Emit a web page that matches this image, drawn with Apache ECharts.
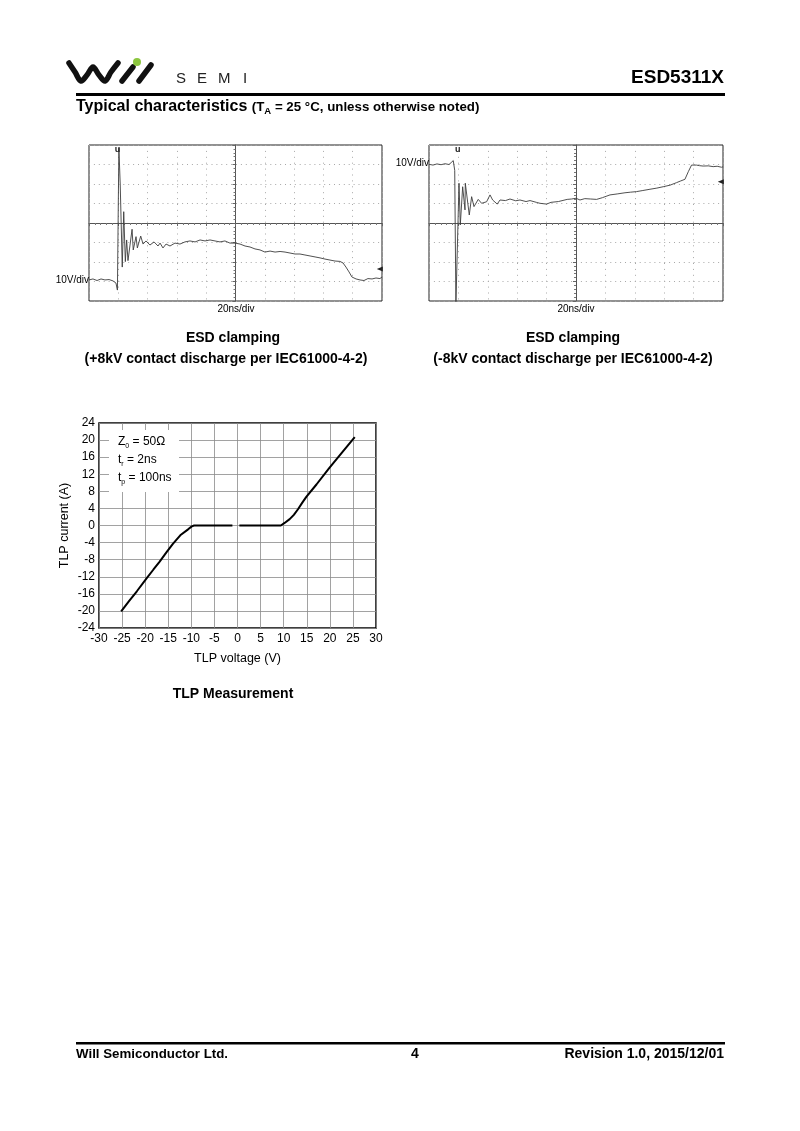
<!DOCTYPE html>
<html><head><meta charset="utf-8">
<script src="https://cdn.jsdelivr.net/npm/echarts@6/dist/echarts.min.js"></script>
<style>html,body{margin:0;padding:0;background:#fff}#c{width:800px;height:1131px}</style>
</head><body><div id="c"></div>
<script>
// ---- data (time in ns relative to screen centre, voltage in V relative to centre graticule) ----
const posClampTrace = [[-100,-29.2],[-97.3,-28.7],[-94.5,-29.5],[-91.8,-28.7],[-89.1,-29.2],[-86.3,-29.0],[-83.6,-29.7],[-81.6,-30.8],[-80.6,-34.4],[-79.6,38.5],[-78.7,20.0],[-77.3,-22.6],[-76.3,5.8],[-75.2,-19.8],[-74.3,-8.7],[-73.4,-19.3],[-72.0,-11.3],[-70.6,-3.2],[-69.8,-13.8],[-67.9,-7.0],[-67.0,-12.8],[-64.7,-6.7],[-63.1,-10.8],[-61.1,-9.2],[-58.4,-11.3],[-55.6,-9.7],[-52.9,-11.8],[-51.5,-10.3],[-49.5,-12.8],[-47.4,-10.8],[-44.7,-11.8],[-41.3,-10.3],[-37.9,-10.8],[-34.5,-9.7],[-31.1,-9.2],[-27.6,-9.7],[-24.2,-8.7],[-20.8,-9.2],[-17.4,-8.7],[-14.0,-9.2],[-10.6,-9.7],[-7.2,-9.2],[-3.8,-10.3],[-0.3,-10.3],[3.1,-10.8],[6.5,-11.8],[9.9,-12.3],[13.3,-13.3],[16.7,-13.8],[20.1,-14.9],[23.6,-14.4],[27.0,-14.9],[30.4,-14.6],[33.8,-14.9],[37.2,-15.4],[40.6,-15.9],[44.0,-15.9],[47.4,-16.4],[50.9,-16.9],[54.3,-17.4],[57.7,-17.9],[61.1,-18.5],[64.5,-19.0],[67.9,-19.5],[71.3,-19.7],[73.4,-20.5],[75.4,-22.6],[77.5,-25.1],[79.5,-27.7],[82.3,-28.7],[85.0,-29.2],[87.7,-29.5],[90.4,-28.5],[93.2,-28.7],[95.9,-28.2],[98.6,-28.5],[100,-27.7]];
const negClampTrace = [[-100,30.1],[-97.3,29.7],[-94.6,30.3],[-91.8,29.9],[-89.1,30.4],[-86.4,30.0],[-84.9,31.0],[-83.5,32.0],[-82.5,27.0],[-81.7,-42],[-79.6,20.4],[-78.7,-1.0],[-77.1,18.6],[-75.5,6.7],[-75.3,20.4],[-72.6,4.1],[-71.0,13.5],[-69.4,8.4],[-66.5,12.1],[-64.2,10.1],[-60.8,10.9],[-58.5,14.4],[-56.7,11.8],[-53.6,9.7],[-51.7,11.8],[-48,11.5],[-44.9,12.3],[-41,11.4],[-38.1,11.8],[-34,11.0],[-31.3,11.5],[-27,10.6],[-24.5,10.1],[-20.0,9.7],[-17,10.6],[-15.7,11.4],[-12,11.0],[-10.9,11.8],[-6,12.1],[-3,12.3],[0,12.7],[2.7,11.8],[6,12.5],[10,12.3],[14.0,12.1],[18,13.0],[23.1,14.4],[28,14.9],[33.3,15.5],[37,15.8],[41.2,16.1],[45,16.6],[50.3,17.3],[55,17.9],[59.3,18.6],[64,19.4],[68.4,20.7],[71,21.5],[74.1,22.4],[76.4,26.3],[78.6,29.7],[82.0,29.7],[84,29.4],[86.5,29.2],[90,29.3],[93.3,28.9],[96,29.1],[99.0,28.6],[100,28.8]];
const tlpCurve = [[-25.2,-20.1],[-23.5,-17.7],[-21.8,-15.4],[-19.7,-12.4],[-18.2,-10.3],[-16.9,-8.5],[-15.4,-6.3],[-14.0,-4.3],[-12.4,-2.3],[-10.7,-0.9],[-9.9,-0.2],[-9.4,0],[-1.1,0],null,[0.4,0],[9.4,0],[10.2,0.6],[11.3,1.5],[12.2,2.5],[13.1,3.8],[14.0,5.3],[14.9,6.7],[17.1,9.6],[19.9,13.5],[22.8,17.3],[25.4,20.7]];
const trigMarkPos = [-80.5, 37.5];
const trigMarkNeg = [-80.5, 37.5];
const levelMarkPos = [98.5, -23.6];
const levelMarkNeg = [98.5, 21.2];
const tlpXRange = [-30, 30, 5];
const tlpYRange = [-24, 24, 4];
const scopeXRange = [-100, 100, 20];
const scopeYRange = [-40, 40, 10];

const NARROW = "'Liberation Sans Narrow','Arial Narrow','Liberation Sans',Arial,sans-serif";
const SANS = "'Liberation Sans',Arial,sans-serif";

function scopeX(i){return {gridIndex:i,type:'value',min:scopeXRange[0],max:scopeXRange[1],interval:scopeXRange[2],
  axisLabel:{show:false},axisLine:{show:true,onZero:true,lineStyle:{color:'#555',width:1}},
  axisTick:{show:true,length:3,lineStyle:{color:'#666'}},minorTick:{show:true,splitNumber:5,length:2,lineStyle:{color:'#777'}},
  splitLine:{show:true,lineStyle:{color:'#a8a8a8',width:1,type:[1,4.9]}}};}
function scopeY(i){return {gridIndex:i,type:'value',min:scopeYRange[0],max:scopeYRange[1],interval:scopeYRange[2],
  axisLabel:{show:false},axisLine:{show:true,onZero:true,lineStyle:{color:'#555',width:1}},
  axisTick:{show:true,length:3,lineStyle:{color:'#666'}},minorTick:{show:true,splitNumber:5,length:2,lineStyle:{color:'#777'}},
  splitLine:{show:true,lineStyle:{color:'#a8a8a8',width:1,type:[1,3.9]}}};}
function markers(trig, lvl){return {silent:true,animation:false,data:[
  {coord:trig,symbol:'circle',symbolSize:0.1,itemStyle:{color:'rgba(0,0,0,0)'},label:{show:true,position:'inside',formatter:'u',fontSize:9,fontWeight:'bold',color:'#222',fontFamily:SANS}},
  {coord:lvl,symbol:'triangle',symbolRotate:90,symbolSize:[5,6],itemStyle:{color:'#222'},label:{show:false}}]};}

const chart = echarts.init(document.getElementById('c'),null,{renderer:'canvas'});
const txt = (x,y,text,o)=>Object.assign({type:'text',x:x,y:y,z:20,style:Object.assign({text:text,fill:'#000',font:'bold 14px '+NARROW,align:'left',verticalAlign:'middle'},o||{})});
chart.setOption({
  animation:false,
  backgroundColor:'#fff',
  grid:[
    {left:89,top:145,width:293,height:156,show:true,borderColor:'#222',borderWidth:1,backgroundColor:'transparent'},
    {left:429,top:145,width:294,height:156,show:true,borderColor:'#222',borderWidth:1,backgroundColor:'transparent'},
    {left:99,top:423,width:277,height:205,show:true,borderColor:'#000',borderWidth:1.5,backgroundColor:'transparent'}
  ],
  xAxis:[scopeX(0),scopeX(1),
    {gridIndex:2,type:'value',min:tlpXRange[0],max:tlpXRange[1],interval:tlpXRange[2],
     axisLine:{show:false,onZero:false},axisTick:{show:false},
     axisLabel:{fontSize:12,color:'#000',margin:5,fontFamily:SANS},
     splitLine:{show:true,lineStyle:{color:'#8a8a8a',width:0.8}},
     name:'TLP voltage (V)',nameLocation:'middle',nameGap:24,nameTextStyle:{fontSize:12.5,color:'#000',fontFamily:SANS}}],
  yAxis:[scopeY(0),scopeY(1),
    {gridIndex:2,type:'value',min:tlpYRange[0],max:tlpYRange[1],interval:tlpYRange[2],
     axisLine:{show:false,onZero:false},axisTick:{show:false},
     axisLabel:{fontSize:12,color:'#000',margin:4,fontFamily:SANS},
     splitLine:{show:true,lineStyle:{color:'#8a8a8a',width:0.8}},
     name:'TLP current (A)',nameLocation:'middle',nameRotate:90,nameGap:28,nameTextStyle:{fontSize:12.5,color:'#000',fontFamily:SANS}}],
  series:[
    {type:'line',xAxisIndex:0,yAxisIndex:0,data:posClampTrace,symbol:'none',showSymbol:false,clip:true,
     lineStyle:{color:'#3c3c3c',width:0.9},markPoint:markers(trigMarkPos,levelMarkPos)},
    {type:'line',xAxisIndex:1,yAxisIndex:1,data:negClampTrace,symbol:'none',showSymbol:false,clip:true,
     lineStyle:{color:'#3c3c3c',width:0.9},markPoint:markers(trigMarkNeg,levelMarkNeg)},
    {type:'line',xAxisIndex:2,yAxisIndex:2,data:tlpCurve,symbol:'none',showSymbol:false,connectNulls:false,
     lineStyle:{color:'#000',width:2}}
  ],
  graphic:[
    // logo
    {type:'polyline',z:20,shape:{points:[[69,63],[75,72],[81,81],[87,75],[93,67],[99,75],[105,81],[111,72],[118,63]],smooth:0.35},style:{stroke:'#111',lineWidth:5.5,fill:null,lineCap:'round',lineJoin:'round'}},
    {type:'line',z:20,shape:{x1:122,y1:81,x2:133,y2:67},style:{stroke:'#111',lineWidth:5.5,lineCap:'round'}},
    {type:'line',z:20,shape:{x1:139,y1:81,x2:151,y2:65},style:{stroke:'#111',lineWidth:5.5,lineCap:'round'}},
    {type:'circle',z:20,shape:{cx:137,cy:62,r:4},style:{fill:'#8cc63f'}},
    txt(176,79,'S',{font:'15px '+SANS,fill:'#222'}),
    txt(197,79,'E',{font:'15px '+SANS,fill:'#222'}),
    txt(218,79,'M',{font:'15px '+SANS,fill:'#222'}),
    txt(243,79,'I',{font:'15px '+SANS,fill:'#222'}),
    txt(724,78,'ESD5311X',{font:'bold 19px '+NARROW,align:'right'}),
    {type:'rect',z:20,shape:{x:76,y:93,width:649,height:3},style:{fill:'#000'}},
    {type:'text',x:76,y:107,z:20,style:{verticalAlign:'middle',align:'left',
      text:'{a|Typical characteristics }{b|(T}{s|A}{b| = 25 °C, unless otherwise noted)}',
      rich:{a:{font:'bold 16px '+NARROW,fill:'#000',lineHeight:18,verticalAlign:'middle'},
            b:{font:'bold 13.3px '+NARROW,fill:'#000',lineHeight:18,verticalAlign:'middle'},
            s:{font:'bold 9.5px '+NARROW,fill:'#000',lineHeight:18,verticalAlign:'bottom'}}}},
    // scope labels
    txt(89,280,'10V/div',{font:'10px '+SANS,align:'right'}),
    txt(236,309,'20ns/div',{font:'10px '+SANS,align:'center'}),
    txt(429,163,'10V/div',{font:'10px '+SANS,align:'right'}),
    txt(576,309,'20ns/div',{font:'10px '+SANS,align:'center'}),
    // captions
    txt(233,338,'ESD clamping',{align:'center'}),
    txt(226,359,'(+8kV contact discharge per IEC61000-4-2)',{align:'center'}),
    txt(573,338,'ESD clamping',{align:'center'}),
    txt(573,359,'(-8kV contact discharge per IEC61000-4-2)',{align:'center'}),
    // TLP legend box
    {type:'rect',z:15,shape:{x:109,y:430,width:70,height:62},style:{fill:'#fff'}},
    {type:'text',x:118,y:442,z:20,style:{verticalAlign:'middle',align:'left',text:'{m|Z}{s|0}{m| = 50Ω}',
      rich:{m:{font:'12px '+SANS,fill:'#000',lineHeight:16,verticalAlign:'middle'},s:{font:'7px '+SANS,fill:'#000',lineHeight:16,verticalAlign:'bottom'}}}},
    {type:'text',x:118,y:460,z:20,style:{verticalAlign:'middle',align:'left',text:'{m|t}{s|r}{m| = 2ns}',
      rich:{m:{font:'12px '+SANS,fill:'#000',lineHeight:16,verticalAlign:'middle'},s:{font:'7px '+SANS,fill:'#000',lineHeight:16,verticalAlign:'bottom'}}}},
    {type:'text',x:118,y:478,z:20,style:{verticalAlign:'middle',align:'left',text:'{m|t}{s|p}{m| = 100ns}',
      rich:{m:{font:'12px '+SANS,fill:'#000',lineHeight:16,verticalAlign:'middle'},s:{font:'7px '+SANS,fill:'#000',lineHeight:16,verticalAlign:'bottom'}}}},
    txt(233,694,'TLP Measurement',{align:'center'}),
    // footer
    {type:'rect',z:20,shape:{x:76,y:1042,width:649,height:2.5},style:{fill:'#000'}},
    txt(76,1054,'Will Semiconductor Ltd.',{font:'bold 13.3px '+NARROW}),
    txt(415,1054,'4',{font:'bold 14px '+NARROW,align:'center'}),
    txt(724,1054,'Revision 1.0, 2015/12/01',{font:'bold 14px '+NARROW,align:'right'})
  ]
});
</script></body></html>
